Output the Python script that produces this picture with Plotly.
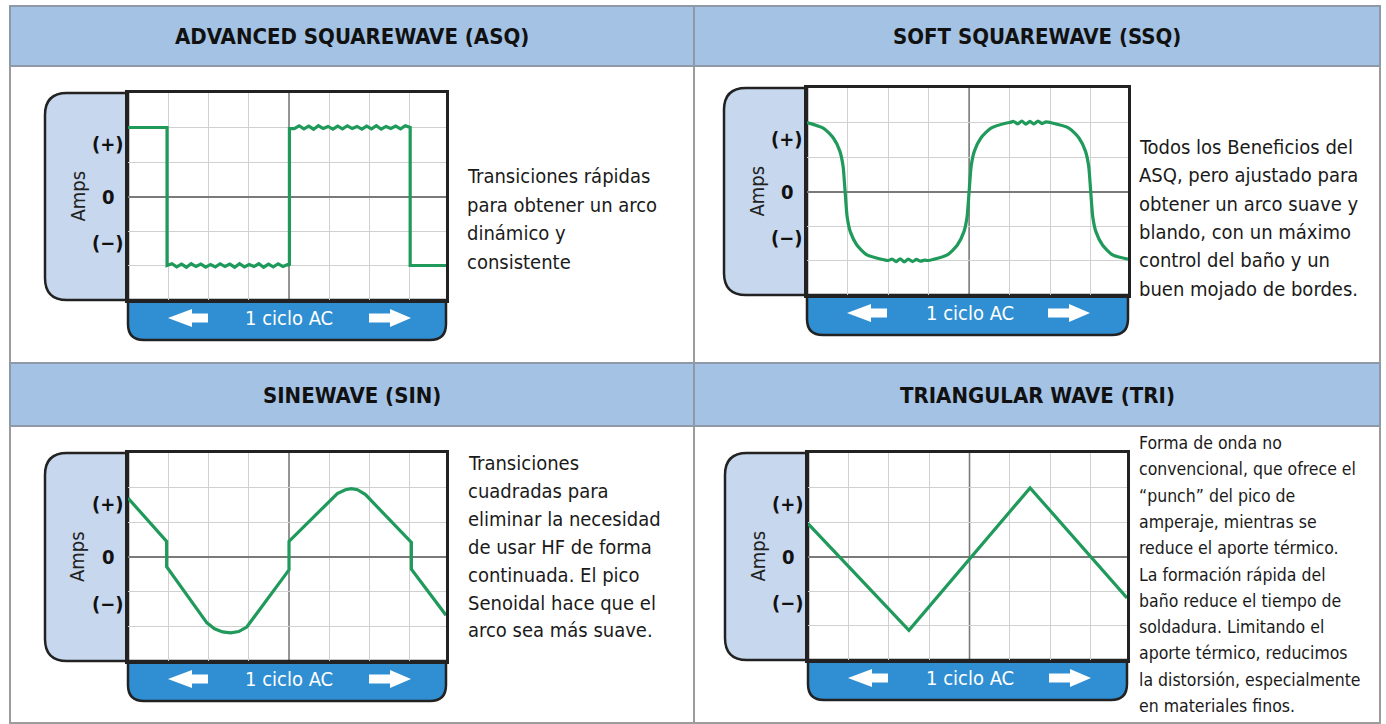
import plotly.graph_objects as go

W, H = 1386, 724

# ---------------- data ----------------
titles = ["ADVANCED SQUAREWAVE (ASQ)", "SOFT SQUAREWAVE (SSQ)", "SINEWAVE (SIN)", "TRIANGULAR WAVE (TRI)"]
y_labels = ["(+)", "0", "(−)"]
y_label_vals = [1.53, 0.0, -1.35]
grid_x = [1, 2, 3, 5, 6, 7]
amps_label = "Amps"
cycle_label = "1 ciclo AC"

asq_pts = [(0.0, 2.0), (0.97, 2.0), (0.97, -2.0),
           (1.09, -1.95), (1.21, -2.04), (1.33, -1.96), (1.45, -2.05), (1.57, -1.95),
           (1.69, -2.03), (1.81, -1.96), (1.93, -2.05), (2.05, -1.97), (2.17, -2.04),
           (2.29, -1.95), (2.41, -2.03), (2.53, -1.96), (2.65, -2.05), (2.77, -1.95),
           (2.89, -2.04), (3.01, -1.97), (3.13, -2.03), (3.25, -1.95), (3.37, -2.05),
           (3.49, -1.96), (3.61, -2.04), (3.73, -1.95), (3.85, -2.03), (3.97, -1.97),
           (4.01, -2.0), (4.01, 1.97),
           (4.13, 1.97), (4.25, 2.05), (4.37, 1.96), (4.49, 2.04), (4.61, 1.95),
           (4.73, 2.05), (4.85, 1.97), (4.97, 2.03), (5.09, 1.95), (5.21, 2.04),
           (5.33, 1.96), (5.45, 2.05), (5.57, 1.97), (5.69, 2.03), (5.81, 1.95),
           (5.93, 2.04), (6.05, 1.96), (6.17, 2.05), (6.29, 1.95), (6.41, 2.03),
           (6.53, 1.97), (6.65, 2.04), (6.77, 1.96), (6.89, 2.05),
           (7.01, 2.0), (7.01, -2.0), (7.9, -2.0)]

ssq_pts = [(0.0, 2.0), (0.40, 1.84), (0.65, 1.55), (0.81, 1.17), (0.89, 0.73), (0.94, 0.0),
           (0.99, -0.73), (1.07, -1.17), (1.23, -1.55), (1.48, -1.84), (1.9, -1.98), (2.0, -2.0),
           (2.1, -1.96), (2.2, -2.03), (2.3, -1.95), (2.4, -2.04), (2.5, -1.96), (2.6, -2.03),
           (2.7, -1.97), (2.8, -2.02), (2.9, -1.99), (3.0, -2.0),
           (3.46, -1.84), (3.71, -1.55), (3.87, -1.17), (3.95, -0.73), (4.0, 0.0), (4.05, 0.73),
           (4.13, 1.17), (4.29, 1.55), (4.54, 1.84), (4.9, 1.98), (5.0, 2.0),
           (5.1, 2.03), (5.2, 1.96), (5.3, 2.04), (5.4, 1.95), (5.5, 2.03), (5.6, 1.96),
           (5.7, 2.04), (5.8, 1.97), (5.9, 2.02), (6.0, 2.0),
           (6.46, 1.84), (6.71, 1.55), (6.87, 1.17), (6.95, 0.73), (7.0, 0.0), (7.05, -0.73),
           (7.13, -1.17), (7.29, -1.55), (7.54, -1.84), (7.92, -1.96)]

sin_pts = [(0.0, 1.7), (0.96, 0.45), (0.96, -0.28), (1.96, -1.9), (2.15, -2.07), (2.35, -2.16),
           (2.55, -2.19), (2.75, -2.15), (2.95, -2.02), (4.0, -0.37), (4.0, 0.45), (5.0, 1.62),
           (5.2, 1.83), (5.4, 1.94), (5.55, 1.97), (5.7, 1.94), (5.9, 1.8), (7.04, 0.42),
           (7.04, -0.35), (7.9, -1.68)]

tri_pts = [(0.0, 0.95), (2.5, -2.14), (5.5, 1.99), (7.9, -1.2)]

asq_text = ["Transiciones rápidas", "para obtener un arco", "dinámico y", "consistente"]
ssq_text = ["Todos los Beneficios del", "ASQ, pero ajustado para", "obtener un arco suave y",
            "blando, con un máximo", "control del baño y un", "buen mojado de bordes."]
sin_text = ["Transiciones", "cuadradas para", "eliminar la necesidad", "de usar HF de forma",
            "continuada. El pico", "Senoidal hace que el", "arco sea más suave."]
tri_text = ["Forma de onda no", "convencional, que ofrece el", "“punch” del pico de",
            "amperaje, mientras se", "reduce el aporte térmico.", "La formación rápida del",
            "baño reduce el tiempo de", "soldadura. Limitando el", "aporte térmico, reducimos",
            "la distorsión, especialmente", "en materiales finos."]

# ---------------- layout (pixels) ----------------
FONT = "Liberation Sans Narrow, Arial Narrow, DejaVu Sans Condensed, sans-serif"
GREEN = "#1f9a5b"
HEADER = "#a3c2e4"
LABELBOX = "#c7d7ee"
BAR = "#2f8fd2"
FRAME = "#222222"

charts = [
    dict(pts=asq_pts, box=(128, 93, 446, 300), xr=[0, 7.9], text=asq_text, tx=465, ty0=176, dy=28.5, fs=20),
    dict(pts=ssq_pts, box=(807, 88, 1128, 295), xr=[0, 7.92], text=ssq_text, tx=1137, ty0=147, dy=28.3, fs=20),
    dict(pts=sin_pts, box=(128, 453, 446, 661), xr=[0, 7.9], text=sin_text, tx=466, ty0=463, dy=27.9, fs=20),
    dict(pts=tri_pts, box=(808, 453, 1127, 660), xr=[0, 7.9], text=tri_text, tx=1137, ty0=443, dy=26.3, fs=17.5),
]
panels = [(10, 6, 694, 363, 66), (694, 6, 1380, 363, 66), (10, 363, 694, 723, 426), (694, 363, 1380, 723, 426)]


def X(x):
    return x / W


def Y(y):
    return 1 - y / H


def path(points):
    out = []
    for cmd, coords in points:
        if cmd == "Z":
            out.append("Z")
        else:
            out.append(cmd + " " + " ".join(f"{X(coords[i]):.5f},{Y(coords[i+1]):.5f}" for i in range(0, len(coords), 2)))
    return " ".join(out)


fig = go.Figure()
shapes = []
annotations = []

# panels & headers
for (l, t, r, b, hb) in panels:
    shapes.append(dict(type="rect", xref="paper", yref="paper", x0=X(l), x1=X(r), y0=Y(b), y1=Y(t),
                       line=dict(color="#9c9c9c", width=2), fillcolor="white", layer="below"))
    shapes.append(dict(type="rect", xref="paper", yref="paper", x0=X(l), x1=X(r), y0=Y(hb), y1=Y(t),
                       line=dict(color="#8d99a6", width=2), fillcolor=HEADER, layer="below"))

for i, (p, c) in enumerate(zip(panels, charts)):
    l, t, r, b, hb = p
    annotations.append(dict(xref="paper", yref="paper", x=X((l + r) / 2), y=Y((t + hb) / 2 + 1),
                            xanchor="center", yanchor="middle",
                            text=f"<b>{titles[i]}</b>", showarrow=False,
                            font=dict(family=FONT, size=22, color="#111")))
    s = "" if i == 0 else str(i + 1)
    L, T, R, B = c["box"]
    xs = [q[0] for q in c["pts"]]
    ys = [q[1] for q in c["pts"]]
    fig.add_trace(go.Scatter(x=xs, y=ys, mode="lines", xaxis=f"x{s}", yaxis=f"y{s}",
                             line=dict(color=GREEN, width=3.2,
                                       shape="spline" if i == 1 else "linear", smoothing=0.6),
                             hoverinfo="skip", showlegend=False))
    axx = dict(domain=[X(L), X(R)], range=c["xr"], tickvals=grid_x, showgrid=True, gridcolor="#d0d0d0",
               gridwidth=1, zeroline=False, showticklabels=False, ticks="", showline=True, mirror=True,
               linecolor=FRAME, linewidth=2.5, fixedrange=True, anchor=f"y{s}")
    axy = dict(domain=[Y(B), Y(T)], range=[-3, 3], dtick=1, tick0=0, showgrid=True, gridcolor="#d0d0d0",
               gridwidth=1, zeroline=True, zerolinecolor="#7a7a7a", zerolinewidth=1.6, showticklabels=False,
               ticks="", showline=True, mirror=True, linecolor=FRAME, linewidth=2.5, fixedrange=True,
               anchor=f"x{s}")
    fig.layout[f"xaxis{s}"] = axx
    fig.layout[f"yaxis{s}"] = axy
    # center vertical line (x = 4 on the data scale)
    xc = L + (4 - c["xr"][0]) / (c["xr"][1] - c["xr"][0]) * (R - L)
    shapes.append(dict(type="line", xref="paper", yref="paper", x0=X(xc), x1=X(xc), y0=Y(B), y1=Y(T),
                       line=dict(color="#7a7a7a", width=1.6), layer="below"))
    # label box with rounded left corners
    lb, rr = L - 83, 22
    shapes.append(dict(type="path", xref="paper", yref="paper", layer="below",
                       path=path([("M", (L, T)), ("L", (lb + rr, T)), ("Q", (lb, T, lb, T + rr)),
                                  ("L", (lb, B - rr)), ("Q", (lb, B, lb + rr, B)), ("L", (L, B)), ("Z", None)]),
                       fillcolor=LABELBOX, line=dict(color=FRAME, width=2.5)))
    # bottom bar with rounded bottom corners
    bb, rb = B + 40, 16
    shapes.append(dict(type="path", xref="paper", yref="paper", layer="below",
                       path=path([("M", (L, B)), ("L", (R, B)), ("L", (R, bb - rb)), ("Q", (R, bb, R - rb, bb)),
                                  ("L", (L + rb, bb)), ("Q", (L, bb, L, bb - rb)), ("Z", None)]),
                       fillcolor=BAR, line=dict(color=FRAME, width=2.5)))
    cy = B + 18
    # left arrow
    shapes.append(dict(type="path", xref="paper", yref="paper", layer="above",
                       path=path([("M", (L + 40, cy)), ("L", (L + 64, cy - 9)), ("L", (L + 64, cy - 4.5)),
                                  ("L", (L + 80, cy - 4.5)), ("L", (L + 80, cy + 4.5)), ("L", (L + 64, cy + 4.5)),
                                  ("L", (L + 64, cy + 9)), ("Z", None)]),
                       fillcolor="white", line=dict(width=0)))
    # right arrow
    shapes.append(dict(type="path", xref="paper", yref="paper", layer="above",
                       path=path([("M", (L + 283, cy)), ("L", (L + 262, cy - 9)), ("L", (L + 262, cy - 4.5)),
                                  ("L", (L + 241, cy - 4.5)), ("L", (L + 241, cy + 4.5)), ("L", (L + 262, cy + 4.5)),
                                  ("L", (L + 262, cy + 9)), ("Z", None)]),
                       fillcolor="white", line=dict(width=0)))
    annotations.append(dict(xref="paper", yref="paper", x=X((L + R) / 2 + 2), y=Y(cy),
                            xanchor="center", yanchor="middle", text=cycle_label,
                            showarrow=False, font=dict(family=FONT, size=20, color="white")))
    # y labels
    for lab, v in zip(y_labels, y_label_vals):
        annotations.append(dict(xref="paper", yref=f"y{s}", x=X(L - 20), y=v, text=f"<b>{lab}</b>",
                                xanchor="center", yanchor="middle",
                                showarrow=False, font=dict(family=FONT, size=20, color="#111")))
    annotations.append(dict(xref="paper", yref=f"y{s}", x=X(L - 51), y=0.0, text=amps_label, textangle=-90,
                            xanchor="center", yanchor="middle",
                            showarrow=False, font=dict(family=FONT, size=20, color="#222")))
    # description text
    for k, line in enumerate(c["text"]):
        annotations.append(dict(xref="paper", yref="paper", x=X(c["tx"]), y=Y(c["ty0"] + k * c["dy"]),
                                xanchor="left", yanchor="middle", text=line, showarrow=False,
                                font=dict(family=FONT, size=c["fs"], color="#1a1a1a")))

fig.update_layout(width=W, height=H, autosize=False, margin=dict(l=0, r=0, t=0, b=0),
                  paper_bgcolor="white", plot_bgcolor="rgba(0,0,0,0)", showlegend=False,
                  shapes=shapes, annotations=annotations)

fig.write_html("out.html", config={"displayModeBar": False},
               post_script="document.body.style.margin='0';document.body.style.overflow='hidden';")
